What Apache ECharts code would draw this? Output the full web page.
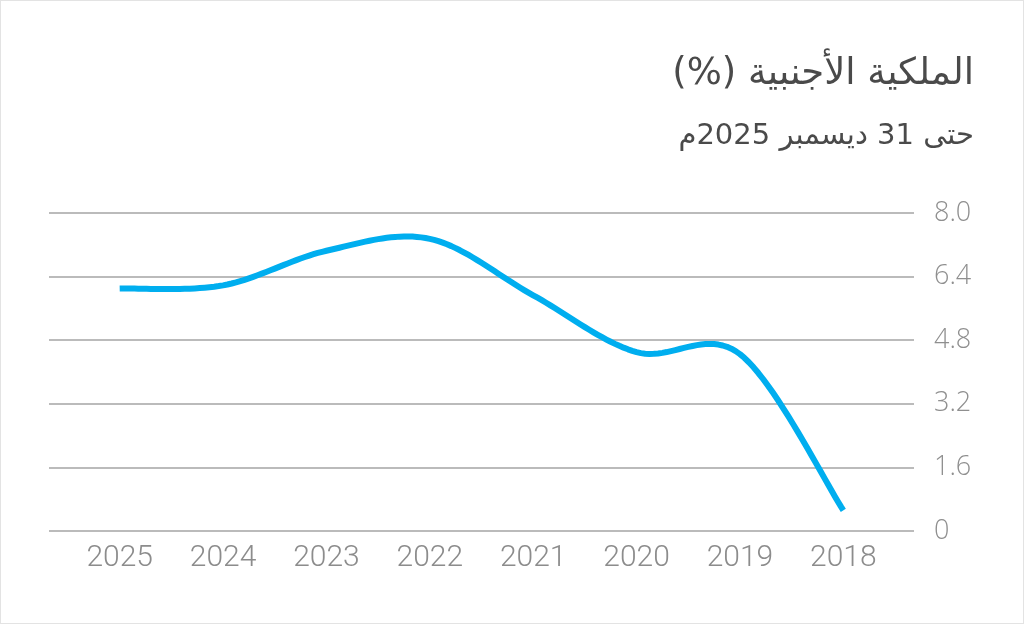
<!DOCTYPE html>
<html>
<head>
<meta charset="utf-8">
<title>الملكية الأجنبية</title>
<script src="https://cdn.jsdelivr.net/npm/echarts@6/dist/echarts.min.js"></script>
<style>
  html, body { margin: 0; padding: 0; background: #fff; }
  #chart { width: 1024px; height: 624px; box-sizing: border-box; border: 1px solid #e3e3e3; }
</style>
</head>
<body>
<div id="chart"></div>
<script>
// 数据
const years = ['2025', '2024', '2023', '2022', '2021', '2020', '2019', '2018'];
const ownership = [6.1, 6.18, 7.05, 7.35, 5.93, 4.5, 4.45, 0.52];
const yTickLabels = ['0', '1.6', '3.2', '4.8', '6.4', '8.0'];

const titleText = 'الملكية الأجنبية (%)';
const subText = 'حتى 31 ديسمبر 2025م';

// RTL 包裹
const rtl = s => '\u202B' + s + '\u202C';

const chart = echarts.init(document.getElementById('chart'));

// Catmull-Rom 平滑曲线（允许越过数据点，和原图一致）
function renderCurve(params, api) {
  if (params.dataIndex !== 0) return null;
  const pts = ownership.map((v, i) => api.coord([i, v]));
  const n = pts.length;
  const out = [];
  for (let i = 0; i < n - 1; i++) {
    const p0 = pts[Math.max(i - 1, 0)];
    const p1 = pts[i];
    const p2 = pts[i + 1];
    const p3 = pts[Math.min(i + 2, n - 1)];
    const c1 = [p1[0] + (p2[0] - p0[0]) / 6, p1[1] + (p2[1] - p0[1]) / 6];
    const c2 = [p2[0] - (p3[0] - p1[0]) / 6, p2[1] - (p3[1] - p1[1]) / 6];
    const steps = 24;
    for (let s = (i === 0 ? 0 : 1); s <= steps; s++) {
      const t = s / steps, u = 1 - t;
      out.push([
        u * u * u * p1[0] + 3 * u * u * t * c1[0] + 3 * u * t * t * c2[0] + t * t * t * p2[0],
        u * u * u * p1[1] + 3 * u * u * t * c1[1] + 3 * u * t * t * c2[1] + t * t * t * p2[1]
      ]);
    }
  }
  return {
    type: 'polyline',
    shape: { points: out },
    style: { stroke: '#00aeef', lineWidth: 6, fill: null, lineJoin: 'round', lineCap: 'butt' }
  };
}

const option = {
  backgroundColor: '#fff',
  animation: false,
  graphic: [
    {
      type: 'text',
      right: 49,
      top: 55,
      style: {
        text: rtl(titleText),
        font: '37px "DejaVu Sans"',
        fill: '#4a4a4a',
        textAlign: 'right'
      }
    },
    {
      type: 'text',
      right: 49,
      top: 121,
      style: {
        text: rtl(subText),
        font: '29px "DejaVu Sans"',
        fill: '#4a4a4a',
        textAlign: 'right'
      }
    }
  ],
  grid: [
    // 网格线 + y 轴
    { left: 48, right: 109, top: 212, bottom: 92 },
    // 折线
    { left: 67, right: 128, top: 212, bottom: 92 }
  ],
  xAxis: [
    { gridIndex: 0, type: 'category', data: years, show: false },
    {
      gridIndex: 1,
      type: 'category',
      data: years,
      boundaryGap: true,
      axisLine: { show: false },
      axisTick: { show: false },
      axisLabel: {
        margin: 12,
        fontFamily: 'Roboto',
        fontWeight: 300,
        fontSize: 30,
        color: '#8c8c8c'
      }
    }
  ],
  yAxis: [
    {
      gridIndex: 0,
      type: 'value',
      position: 'right',
      min: 0,
      max: 8,
      interval: 1.6,
      axisLine: { show: false },
      axisTick: { show: false },
      axisLabel: {
        margin: 20,
        fontFamily: 'Open Sans',
        fontWeight: 300,
        fontSize: 27,
        color: '#8f8f8f',
        formatter: (v, i) => yTickLabels[i]
      },
      splitLine: { lineStyle: { color: '#a4a4a4', width: 1.5 } }
    },
    { gridIndex: 1, type: 'value', min: 0, max: 8, show: false, splitLine: { show: false } }
  ],
  series: [
    {
      name: 'الملكية الأجنبية',
      type: 'custom',
      xAxisIndex: 1,
      yAxisIndex: 1,
      data: ownership.map((v, i) => [i, v]),
      renderItem: renderCurve,
      clip: false
    }
  ]
};

chart.setOption(option);
</script>
</body>
</html>
